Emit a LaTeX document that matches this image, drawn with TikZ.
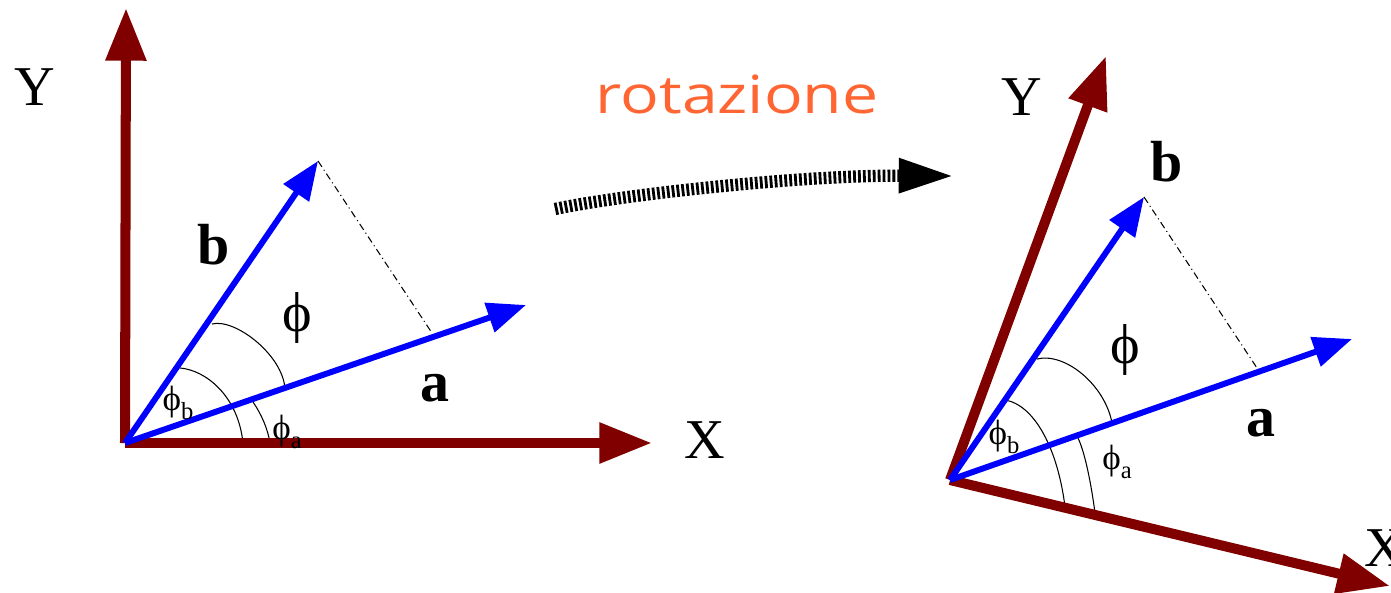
\documentclass[tikz,border=0pt]{standalone}
\usepackage{fontspec}
\setmainfont{Liberation Serif}
\newfontfamily\rotfont[FakeStretch=1.22]{Open Sans}
\usetikzlibrary{arrows.meta, positioning}
\definecolor{cmaroon}{HTML}{800000}
\definecolor{cblue}{HTML}{0000FF}
\definecolor{corange}{HTML}{FF6633}
\newcommand{\fiL}{ϕ}
\tikzset{
  axis/.style={draw=cmaroon, fill=cmaroon, line width=5.7pt, -{Triangle[length=30pt, width=22pt]}},
  vec/.style={draw=cblue, fill=cblue, line width=3.4pt, -{Triangle[length=22pt, width=17pt]}},
  proj/.style={draw=black, line width=0.6pt, dash pattern=on 4pt off 2pt on 0.6pt off 2pt},
  angarc/.style={draw=black, line width=0.6pt},
  rotarrow/.style={draw=black, line width=7pt, dash pattern=on 1.6pt off 1.2pt, -{Triangle[length=32pt, width=18pt]}},
  lbl/.style={font=\fontsize{32}{36}\selectfont, inner sep=0pt},
  vlbl/.style={font=\fontsize{33}{36}\selectfont\bfseries, inner sep=0pt},
  sublbl/.style={font=\fontsize{20}{22}\selectfont, inner sep=0pt},
}
\begin{document}
\begin{tikzpicture}[x=0.02cm, y=-0.02cm]
  \useasboundingbox (0,0) rectangle (1391,592);
  % left frame
  \coordinate (oL) at (125,443);
  \coordinate (yTipL) at (126,8);
  \coordinate (xTipL) at (652,443);
  \coordinate (bTipL) at (318,161);
  \coordinate (aTipL) at (526,305);
  \coordinate (footL) at (432,333);
  \draw[proj] (bTipL) -- (footL);
  \draw[angarc] (212,324) .. controls (235,318) and (283,355) .. (285,389);
  \draw[angarc] (180,368) .. controls (205,370) and (238,395) .. (243,443);
  \draw[angarc] (253,402) .. controls (262,415) and (268,430) .. (270,443);
  \draw[axis] (oL) -- (yTipL);
  \draw[axis] (oL) -- (xTipL);
  \draw[vec] (oL) -- (bTipL);
  \draw[vec] (oL) -- (aTipL);
  \node[lbl] (yL) at (35,87) {Y};
  \node[lbl] (xL) at (705,440) {X};
  \node[vlbl] (bL) at (214,245) {b};
  \node[vlbl] (aL) at (435,388) {a};
  \node[lbl] (phiL) at (297,318) {\fiL};
  \node[sublbl] (phibL) at (178,403) {\fiL\raisebox{-5pt}{\fontsize{14}{16}\selectfont b}};
  \node[sublbl] (phiaL) at (287,432) {\fiL\raisebox{-5pt}{\fontsize{14}{16}\selectfont a}};
  % rotation
  \node[font=\rotfont\fontsize{30}{34}\selectfont, text=corange, inner sep=0pt] (rot) at (737,94) {rotazione};
  \coordinate (rotStart) at (555,209);
  \coordinate (rotEnd) at (955,176);
  \draw[rotarrow] (rotStart) .. controls (620,195) and (800,175) .. (rotEnd);
  % right frame
  \coordinate (oR) at (950,480);
  \coordinate (yTipR) at (1106,56);
  \coordinate (xTipR) at (1390,586);
  \coordinate (bTipR) at (1144,197);
  \coordinate (aTipR) at (1352,339);
  \coordinate (footR) at (1257,368);
  \draw[proj] (bTipR) -- (footR);
  \draw[angarc] (1037,359) .. controls (1065,352) and (1105,385) .. (1112,423);
  \draw[angarc] (1005,400) .. controls (1035,405) and (1058,450) .. (1065,507);
  \draw[angarc] (1078,438) .. controls (1086,455) and (1092,490) .. (1095,513);
  \draw[axis] (oR) -- (yTipR);
  \draw[axis] (oR) -- (xTipR);
  \draw[vec] (oR) -- (bTipR);
  \draw[vec] (oR) -- (aTipR);
  \node[lbl] (yR) at (1022,97) {Y};
  \node[lbl] (xR) at (1385,548) {X};
  \node[vlbl] (bR) at (1167,162) {b};
  \node[vlbl] (aR) at (1261,423) {a};
  \node[lbl] (phiR) at (1125,350) {\fiL};
  \node[sublbl] (phibR) at (1004,437) {\fiL\raisebox{-5pt}{\fontsize{14}{16}\selectfont b}};
  \node[sublbl] (phiaR) at (1117,462) {\fiL\raisebox{-5pt}{\fontsize{14}{16}\selectfont a}};
\end{tikzpicture}
\end{document}
